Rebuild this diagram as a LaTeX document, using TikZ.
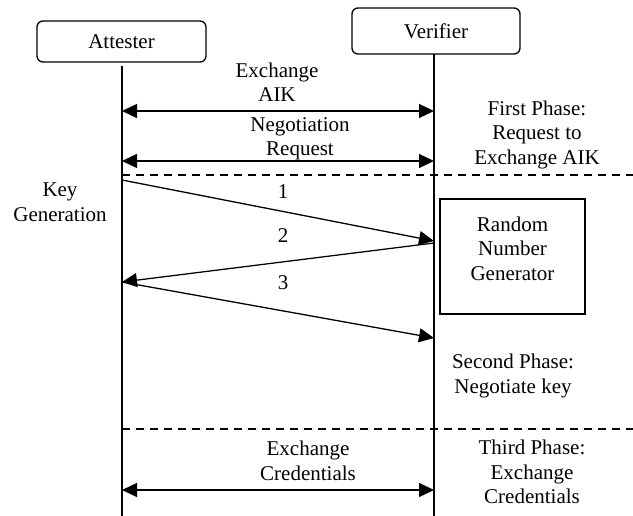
\documentclass[tikz,border=0pt]{standalone}
\usepackage{fontspec}
\setmainfont{Liberation Serif}
\newfontfamily\timesfont{Liberation Serif}
\usetikzlibrary{arrows.meta,positioning}

\begin{document}
\begin{tikzpicture}[x=1pt,y=-1pt,
		actor/.style={draw, line width=1.3pt, rounded corners=6pt, font=\timesfont\fontsize{21}{24}\selectfont},
		txt/.style={align=center, inner sep=0pt, font=\timesfont\fontsize{21}{24.5}\selectfont},
		life/.style={line width=1.3pt},
		msg/.style={line width=1.3pt, -{Triangle[length=15pt,width=14pt]}},
		twoway/.style={line width=1.3pt, {Triangle[length=15pt,width=14pt]}-{Triangle[length=15pt,width=14pt]}},
		phase/.style={line width=1.3pt, dash pattern=on 8pt off 6pt}]
		\useasboundingbox (0,0) rectangle (633,516);
		
		% Actors
		\node[actor, minimum width=169pt, minimum height=41pt] (att) at (121.5,41.5) {Attester};
		\node[actor, minimum width=168pt, minimum height=46pt] (ver) at (436,31) {Verifier};
		
		% Lifelines
		\coordinate (attTop) at (122,66);
		\coordinate (attBot) at (122,516);
		\coordinate (verTop) at (434,54);
		\coordinate (verBot) at (434,516);
		\draw[life] (attTop) -- (attBot);
		\draw[life] (verTop) -- (verBot);
		
		% First phase
		\coordinate (aAik) at (122,111);
		\coordinate (vAik) at (434,111);
		\coordinate (aReq) at (122,161);
		\coordinate (vReq) at (434,161);
		\draw[twoway] (aAik) -- (vAik);
		\draw[twoway] (aReq) -- (vReq);
		\node[txt] (aik) at (277,82) {Exchange\\AIK};
		\node[txt] (req) at (300,139) {Negotiation\\Request};
		\node[txt] (first) at (537,134.5) {First Phase:\\Request to\\Exchange AIK};
		
		% Separator
		\coordinate (sepA) at (122,175);
		\coordinate (sepB) at (633,175);
		\draw[phase] (sepA) -- (sepB);
		
		% Second phase
		\node[txt] (keygen) at (60,202) {Key\\Generation};
		\coordinate (a1) at (122,180);
		\coordinate (v1) at (434,241);
		\coordinate (v2) at (434,243);
		\coordinate (a2) at (122,282);
		\coordinate (v3) at (434,338);
		\draw[msg] (a1) -- (v1);
		\draw[msg] (v2) -- (a2);
		\draw[msg] (a2) -- (v3);
		\node[txt] (n1) at (283,192) {1};
		\node[txt] (n2) at (283,236) {2};
		\node[txt] (n3) at (283,283) {3};
		\node[draw, line width=1.3pt, minimum width=145pt, minimum height=115pt] (rng) at (512.5,256.5) {};
		\node[txt] (rngtext) at ([yshift=8pt]rng.center) {Random\\Number\\Generator};
		\node[txt] (second) at (513,376) {Second Phase:\\Negotiate key};
		
		% Separator
		\coordinate (sepC) at (122,429);
		\coordinate (sepD) at (633,429);
		\draw[phase] (sepC) -- (sepD);
		
		% Third phase
		\coordinate (aCred) at (122,490);
		\coordinate (vCred) at (434,490);
		\draw[twoway] (aCred) -- (vCred);
		\node[txt] (cred) at (308,461) {Exchange\\Credentials};
		\node[txt] (third) at (532,472) {Third Phase:\\Exchange\\Credentials};
	\end{tikzpicture}
\end{document}
